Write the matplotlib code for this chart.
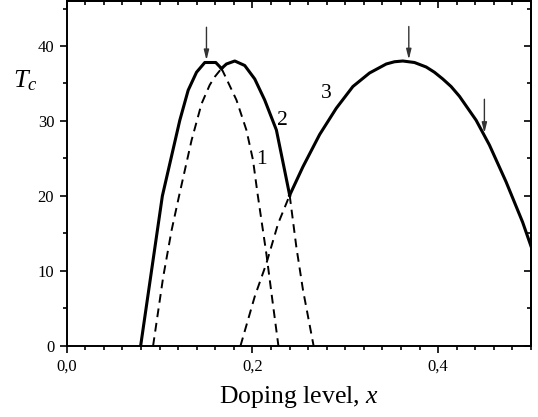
import matplotlib
matplotlib.use('Agg')
import matplotlib.pyplot as plt
from matplotlib.ticker import MultipleLocator, FuncFormatter

plt.rcParams['font.family'] = 'Liberation Serif'
plt.rcParams['mathtext.fontset'] = 'custom'
plt.rcParams['mathtext.rm'] = 'Liberation Serif'
plt.rcParams['mathtext.it'] = 'Liberation Serif:italic'

# curve 1: left dome (solid up to the junction, then dashed)
curve1_x = [0.0796, 0.103, 0.1218, 0.1308, 0.1398, 0.1487, 0.1605, 0.1667,
            0.1702, 0.1828, 0.1935, 0.2006, 0.2054, 0.215, 0.2215, 0.228]
curve1_y = [0, 20.0, 30.1, 34.1, 36.5, 37.8, 37.8, 37.0,
            36.1, 32.8, 28.8, 24.8, 20.4, 12.3, 6.1, 0]

# curve 2: middle dome
curve2_x = [0.093, 0.1039, 0.1129, 0.1208, 0.1344, 0.1452, 0.154, 0.1595,
            0.1667, 0.172, 0.181, 0.1917, 0.2025, 0.2132, 0.2258, 0.2347,
            0.2401, 0.2473, 0.2544, 0.2659]
curve2_y = [0, 9.2, 15.4, 19.9, 27.4, 32.3, 34.8, 35.9,
            37.0, 37.6, 38.0, 37.4, 35.6, 32.8, 28.8, 23.4,
            20.1, 13.2, 7.5, 0]

# curve 3: right dome
curve3_x = [0.1871, 0.2025, 0.215, 0.2276, 0.2401, 0.2544, 0.2724, 0.2903,
            0.3082, 0.3261, 0.3441, 0.353, 0.3619, 0.3745, 0.3871, 0.396,
            0.405, 0.4139, 0.4229, 0.4409, 0.4552, 0.4731, 0.491, 0.5]
curve3_y = [0, 6.6, 11.0, 16.3, 20.1, 23.9, 28.2, 31.7,
            34.6, 36.4, 37.6, 37.9, 38.0, 37.8, 37.2, 36.5,
            35.6, 34.6, 33.3, 30.1, 26.8, 21.9, 16.5, 13.3]

# arrows: x, tip y, tail y
arrow_x = [0.1505, 0.3684, 0.4498]
arrow_tip = [38.1, 38.2, 28.4]
arrow_tail = [42.5, 42.6, 32.9]

# curve labels
label_text = ['1', '2', '3']
label_x = [0.2097, 0.2327, 0.2796]
label_y = [24.8, 30.1, 33.7]

fig = plt.figure(figsize=(5.38, 4.17), dpi=100)
ax = fig.add_axes([0.124, 0.1703, 0.863, 0.8273])

solid = dict(color='black', lw=2.2, solid_joinstyle='round')
dashed = dict(color='black', lw=1.4, linestyle=(0, (4.5, 3)))

ax.plot(curve1_x[:8], curve1_y[:8], **solid)
ax.plot(curve1_x[7:], curve1_y[7:], **dashed)
ax.plot(curve2_x[:9], curve2_y[:9], **dashed)
ax.plot(curve2_x[8:17], curve2_y[8:17], **solid)
ax.plot(curve2_x[16:], curve2_y[16:], **dashed)
ax.plot(curve3_x[:5], curve3_y[:5], **dashed)
ax.plot(curve3_x[4:], curve3_y[4:], **solid)

for xa, yt, yb in zip(arrow_x, arrow_tip, arrow_tail):
    ax.annotate('', xy=(xa, yt), xytext=(xa, yb),
                arrowprops=dict(arrowstyle='-|>,head_length=0.6,head_width=0.15',
                                color='#333333', lw=1.0, shrinkA=0, shrinkB=0))

for t, lx, ly in zip(label_text, label_x, label_y):
    ax.text(lx, ly, t, fontsize=15.5, ha='center', va='center')

ax.set_xlim(0, 0.5)
ax.set_ylim(0, 46)

ax.xaxis.set_major_locator(MultipleLocator(0.2))
ax.xaxis.set_minor_locator(MultipleLocator(0.02))
ax.yaxis.set_major_locator(MultipleLocator(10))
ax.yaxis.set_minor_locator(MultipleLocator(5))
ax.xaxis.set_major_formatter(FuncFormatter(lambda v, p: f'{v:.1f}'.replace('.', ',')))

ax.tick_params(axis='both', which='major', direction='out', length=5, width=1.2,
               labelsize=12, pad=4)
ax.tick_params(axis='both', which='minor', direction='out', length=3, width=1.2)

# inward ticks on the top and right frame
top = ax.secondary_xaxis('top')
top.xaxis.set_major_locator(MultipleLocator(0.2))
top.xaxis.set_minor_locator(MultipleLocator(0.02))
top.tick_params(which='major', direction='in', length=5, width=1.2, labeltop=False)
top.tick_params(which='minor', direction='in', length=3, width=1.2)
right = ax.secondary_yaxis('right')
right.yaxis.set_major_locator(MultipleLocator(10))
right.yaxis.set_minor_locator(MultipleLocator(5))
right.tick_params(which='major', direction='in', length=5, width=1.2, labelright=False)
right.tick_params(which='minor', direction='in', length=3, width=1.2)

for a in [ax, top, right]:
    for side in a.spines:
        a.spines[side].set_linewidth(1.4)

ax.set_xlabel('Doping level, $x$', fontsize=18.5, labelpad=7)
fig.text(13 / 538, 1 - 87 / 417, '$T_c$', fontsize=19, ha='left', va='baseline')

fig.savefig('out.png', dpi=100)
